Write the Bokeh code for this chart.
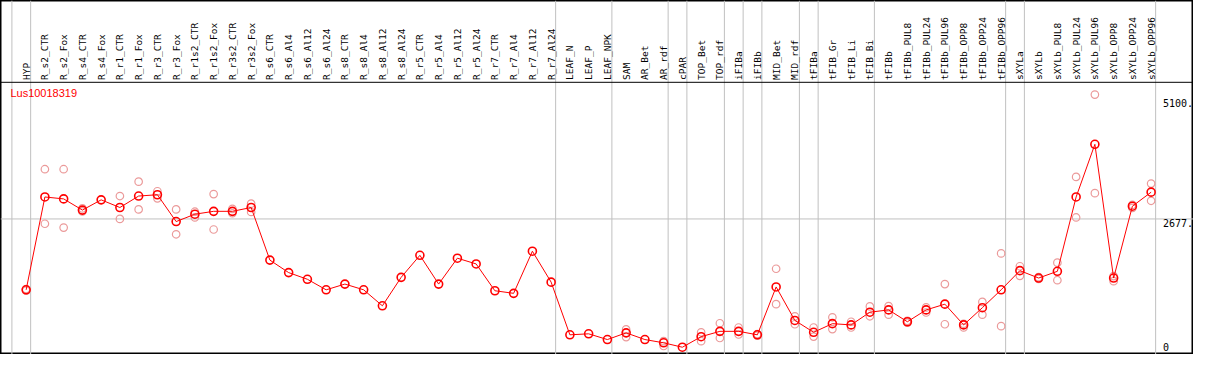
import math
import numpy as np
from bokeh.plotting import figure
from bokeh.models import Range1d, ColumnDataSource, Span
from bokeh.core.properties import value
from bokeh.embed import file_html
from bokeh.resources import INLINE

gene = "Lus10018319"

samples = ["HYP", "R_s2_CTR", "R_s2_Fox", "R_s4_CTR", "R_s4_Fox", "R_r1_CTR", "R_r1_Fox",
           "R_r3_CTR", "R_r3_Fox", "R_r1s2_CTR", "R_r1s2_Fox", "R_r3s2_CTR", "R_r3s2_Fox",
           "R_s6_CTR", "R_s6_Al4", "R_s6_Al12", "R_s6_Al24", "R_s8_CTR", "R_s8_Al4", "R_s8_Al12",
           "R_s8_Al24", "R_r5_CTR", "R_r5_Al4", "R_r5_Al12", "R_r5_Al24", "R_r7_CTR", "R_r7_Al4",
           "R_r7_Al12", "R_r7_Al24", "LEAF_N", "LEAF_P", "LEAF_NPK", "SAM", "AR_Bet", "AR_rdf",
           "cPAR", "TOP_Bet", "TOP_rdf", "iFIBa", "iFIBb", "MID_Bet", "MID_rdf", "tFIBa",
           "tFIB_Gr", "tFIB_Li", "tFIB_Bi", "tFIBb", "tFIBb_PUL8", "tFIBb_PUL24", "tFIBb_PUL96",
           "tFIBb_OPP8", "tFIBb_OPP24", "tFIBb_OPP96", "sXYLa", "sXYLb", "sXYLb_PUL8",
           "sXYLb_PUL24", "sXYLb_PUL96", "sXYLb_OPP8", "sXYLb_OPP24", "sXYLb_OPP96"]

means = [1245, 3121, 3082, 2856, 3063, 2908, 3140, 3166, 2624, 2773, 2831, 2831, 2908,
         1845, 1593, 1458, 1245, 1361, 1245, 922, 1497, 1942, 1361, 1884, 1768, 1226, 1174,
         2025, 1400, 336, 356, 240, 375, 240, 174, 85, 298, 406, 406, 336, 1303, 626, 387,
         561, 536, 793, 839, 600, 839, 955, 536, 884, 1245, 1632, 1483, 1619, 3121, 4185,
         1483, 2934, 3218]

nan = float("nan")
rep1 = [1260, 3682, 3682, 2890, nan, 3140, 3430, 3237, 2870, 2823, 3179, 2882, 2986,
        nan, nan, nan, nan, nan, nan, nan, nan, nan, nan, nan, nan, nan, nan, nan, nan,
        nan, nan, nan, 445, nan, 207, nan, 387, 569, 484, 350, 1671, 710, 484,
        690, 600, 909, 917, 620, 890, 1361, 560, 1000, 1980, 1721, 1500, 1793, 3527, 5190,
        1522, 2960, 3392]
rep2 = [1230, 2580, 2502, 2830, nan, 2677, 2870, 3094, 2367, 2707, 2464, 2792, 2818,
        nan, nan, nan, nan, nan, nan, nan, nan, nan, nan, nan, nan, nan, nan, nan, nan,
        nan, nan, nan, 290, nan, 110, nan, 207, 271, 342, 320, 955, 549, 300,
        452, 484, 710, 743, 580, 787, 549, 484, 743, 510, 1528, 1466, 1439, 2707, 3198,
        1419, 2900, 3044]

# indices of the last sample in each group (vertical separators)
group_ends = [-1, 0, 28, 31, 34, 35, 37, 38, 39, 41, 42, 45, 52, 53, 60]

tick_values = [5100, 2677, 0]
tick_labels = ["5100.", "2677.", "0"]

# layout in data units
X_START, X_END = -1.368, 62.26
Y_START, Y_END = -62, 7091
HEADER_Y = 5438
LABEL_Y = 5486
GENE_Y = 5221

idx = list(range(len(samples)))

p = figure(width=1193, height=354, output_backend="svg", toolbar_location=None,
           x_range=Range1d(X_START, X_END), y_range=Range1d(Y_START, Y_END),
           min_border=0, min_border_left=0, min_border_right=0, min_border_top=0,
           min_border_bottom=0)
p.axis.visible = False
p.xgrid.visible = False
p.ygrid.visible = False
p.background_fill_color = "white"
p.border_fill_color = "white"
p.outline_line_color = "black"
p.outline_line_width = 2

for g in group_ends:
    p.add_layout(Span(location=g + 0.24, dimension="height", line_color="#c0c0c0",
                      line_width=1, level="underlay"))
p.add_layout(Span(location=tick_values[1], dimension="width", line_color="#c0c0c0",
                  line_width=1, level="underlay"))
p.add_layout(Span(location=HEADER_Y, dimension="width", line_color="black", line_width=1))

rep_src = ColumnDataSource(dict(x=idx + idx, y=rep1 + rep2))
p.scatter("x", "y", source=rep_src, marker="circle", size=7.5, fill_color=None,
          line_color="#eb9a9a", line_width=1.2)

src = ColumnDataSource(dict(x=idx, y=means, name=samples))
p.line("x", "y", source=src, line_color="#ff0000", line_width=1)
p.scatter("x", "y", source=src, marker="circle", size=8, fill_color=None,
          line_color="#ff0000", line_width=1.6)

p.text(x="x", y=LABEL_Y, text="name", source=src, angle=math.pi / 2,
       text_align="left", text_baseline="middle", text_font=value("DejaVu Sans Mono"),
       text_font_size="9.5px", text_color="black")

p.text(x=[-0.84], y=[GENE_Y], text=[gene], text_align="left", text_baseline="middle",
       text_font=value("Liberation Sans"), text_font_size="11px", text_color="#ff0000")

p.text(x=[60.63] * 2, y=tick_values[:2], text=tick_labels[:2], text_align="left",
       text_baseline="top", text_font=value("DejaVu Sans Mono"), text_font_size="10px",
       text_color="black")
p.text(x=[60.63], y=tick_values[2:], text=tick_labels[2:], text_align="left",
       text_baseline="bottom", text_font=value("DejaVu Sans Mono"), text_font_size="10px",
       text_color="black")

open("out.html", "w").write(file_html(p, INLINE))
